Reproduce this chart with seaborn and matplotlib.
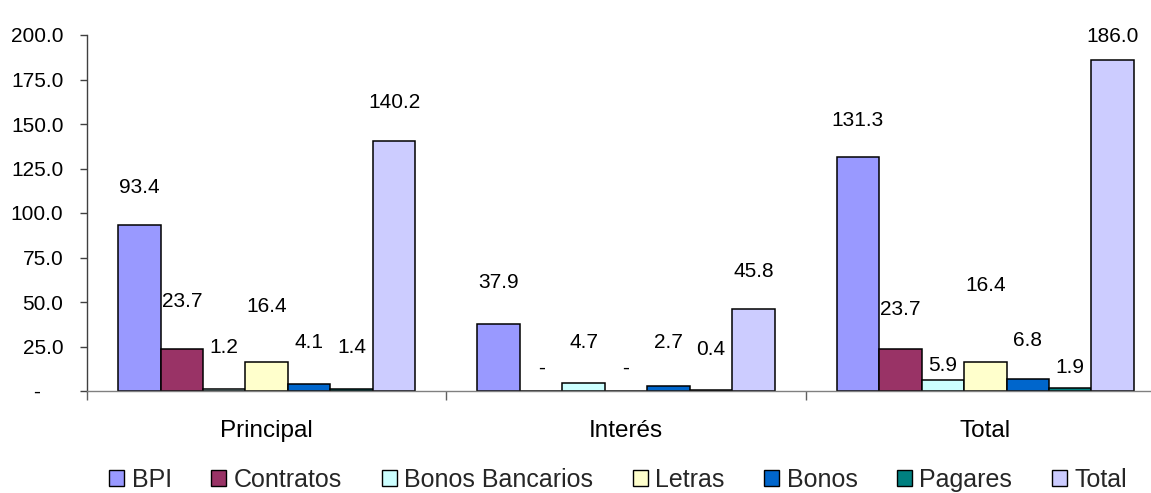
import matplotlib
matplotlib.use("Agg")
import matplotlib.pyplot as plt
import matplotlib.ticker as mticker
from matplotlib.patches import Patch
import seaborn as sns
import pandas as pd

groups = ["Principal", "Interés", "Total"]
series = ["BPI", "Contratos", "Bonos Bancarios", "Letras", "Bonos", "Pagares", "Total"]
principal = [93.4, 23.7, 1.2, 16.4, 4.1, 1.4, 140.2]
interes = [37.9, 0.0, 4.7, 0.0, 2.7, 0.4, 45.8]
total = [131.3, 23.7, 5.9, 16.4, 6.8, 1.9, 186.0]
colors = ["#9999FF", "#993366", "#CCFFFF", "#FFFFCC", "#0066CC", "#008080", "#CCCCFF"]

# label heights (data units) as placed in the original chart
label_y_principal = [114.6, 50.2, 24.2, 47.2, 27.5, 24.2, 161.8]
label_y_interes = [60.7, 12.9, 27.1, 12.9, 27.1, 23.4, 67.0]
label_y_total = [152.0, 45.9, 14.6, 59.0, 28.3, 13.3, 199.4]

values = [principal, interes, total]
label_ys = [label_y_principal, label_y_interes, label_y_total]

rows = []
for g, vals in zip(groups, values):
    for s, v in zip(series, vals):
        rows.append({"grupo": g, "serie": s, "valor": v})
df = pd.DataFrame(rows)

sns.set_theme(style="white")
plt.rcParams["font.family"] = ["Liberation Sans", "DejaVu Sans"]

W, H = 1151, 493
fig = plt.figure(figsize=(W / 100, H / 100), dpi=100)
ax = fig.add_axes([87 / W, (H - 391) / H, (1165 - 87) / W, 356 / H])

sns.barplot(data=df, x="grupo", y="valor", hue="serie", hue_order=series,
            order=groups, palette=colors, saturation=1, width=0.827, gap=0,
            edgecolor="black", linewidth=1.1, legend=False, ax=ax)

ax.set_xlim(-0.5, 2.5)
ax.set_ylim(0, 200)
ax.yaxis.set_major_locator(mticker.MultipleLocator(25))
ax.yaxis.set_major_formatter(mticker.FuncFormatter(
    lambda v, p: "-    " if abs(v) < 1e-9 else f"{v:.1f}"))
ax.set_xlabel("")
ax.set_ylabel("")

for sp in ["top", "right"]:
    ax.spines[sp].set_visible(False)
ax.spines["left"].set_color("#404040")
ax.spines["bottom"].set_color("#808080")
ax.spines["left"].set_linewidth(1.0)
ax.spines["bottom"].set_linewidth(1.0)

ax.tick_params(axis="y", which="major", direction="out", length=5, width=1,
               color="#404040", pad=12, labelsize=15, labelcolor="black", left=True)
ax.tick_params(axis="x", which="major", length=0, pad=21, labelsize=17.5, labelcolor="black")
ax.xaxis.set_minor_locator(mticker.FixedLocator([-0.5, 0.5, 1.5, 2.5]))
ax.tick_params(axis="x", which="minor", direction="out", length=6.5, width=1,
               color="#606060", bottom=True)

for i, cont in enumerate(ax.containers):
    for j, bar in enumerate(cont):
        v = values[j][i]
        txt = "-" if v == 0 else f"{v:.1f}"
        x = bar.get_x() + bar.get_width() / 2
        ax.text(x, label_ys[j][i], txt, ha="center", va="center",
                fontsize=15, color="black")

handles = [Patch(facecolor=c, edgecolor="black", linewidth=1.0, label=s)
           for c, s in zip(colors, series)]
fig.legend(handles=handles, loc="center", bbox_to_anchor=(0.537, 13 / H),
           ncol=7, frameon=False, fontsize=18, handlelength=0.6, handleheight=0.6,
           handletextpad=0.3, columnspacing=1.58, borderaxespad=0)

fig.savefig("out.png", dpi=100)
